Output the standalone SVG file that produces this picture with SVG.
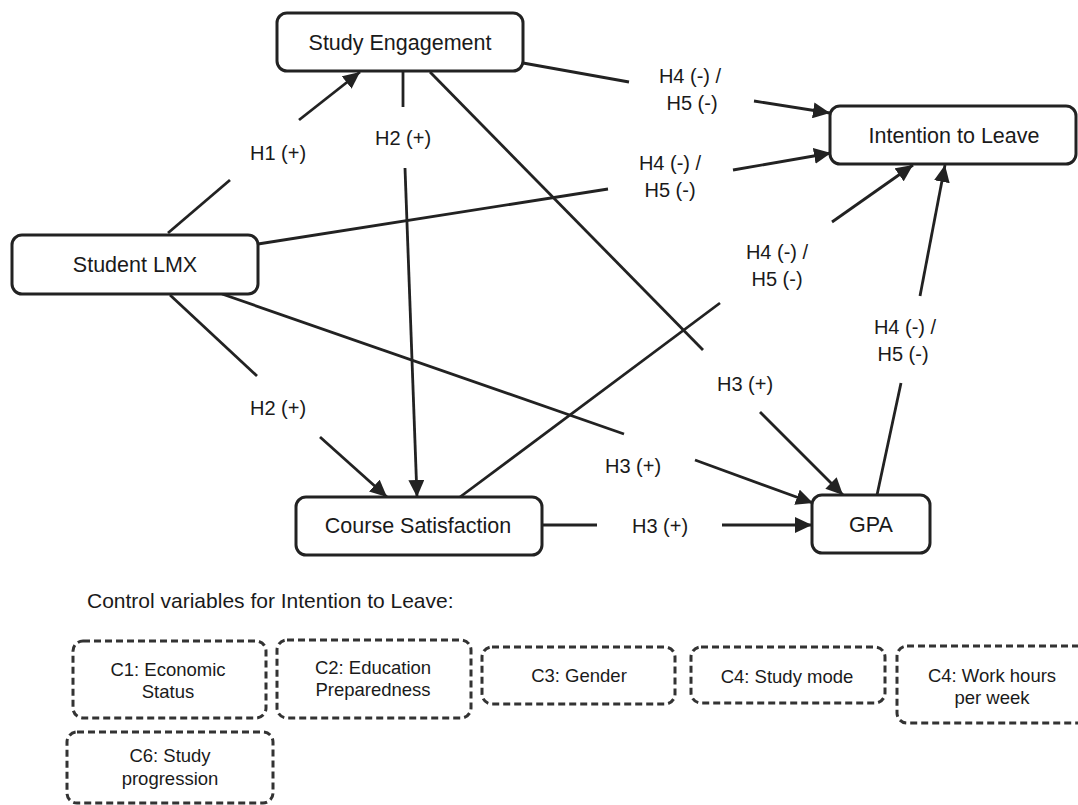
<svg xmlns="http://www.w3.org/2000/svg" width="1078" height="805" viewBox="0 0 1078 805">
<style>
.node rect{fill:#fff;stroke:#222;stroke-width:3}
.ctrl rect{fill:#fff;stroke:#333;stroke-width:3;stroke-dasharray:7 4}
text{font-family:"Liberation Sans",Arial,Helvetica,sans-serif;fill:#1a1a1a;text-anchor:middle}
.nt{font-size:21.5px}
.lt{font-size:20px}
.ct{font-size:18.5px}
.edges line{stroke:#222;stroke-width:2.8;fill:none}
</style>
<defs>
<marker id="arr" markerUnits="userSpaceOnUse" markerWidth="18" markerHeight="16" refX="17" refY="8" orient="auto">
<path d="M0,0 L17,8 L0,16 z" fill="#222"/>
</marker>
</defs>
<rect width="1078" height="805" fill="#fff"/>
<g id="connectors" class="edges">
<line x1="168" y1="233" x2="230" y2="180"/>
<line x1="299" y1="120" x2="360" y2="72" marker-end="url(#arr)"/>
<line x1="403" y1="72" x2="403" y2="107"/>
<line x1="405" y1="168" x2="417" y2="497" marker-end="url(#arr)"/>
<line x1="170" y1="295" x2="257" y2="376"/>
<line x1="320" y1="437" x2="387" y2="497" marker-end="url(#arr)"/>
<line x1="222" y1="294" x2="624" y2="434"/>
<line x1="695" y1="460" x2="813" y2="503" marker-end="url(#arr)"/>
<line x1="430" y1="72" x2="703" y2="350"/>
<line x1="760" y1="412" x2="843" y2="495" marker-end="url(#arr)"/>
<line x1="523" y1="63" x2="629" y2="82"/>
<line x1="754" y1="101" x2="830" y2="113" marker-end="url(#arr)"/>
<line x1="258" y1="244" x2="608" y2="189"/>
<line x1="733" y1="170" x2="831" y2="153" marker-end="url(#arr)"/>
<line x1="460" y1="497" x2="720" y2="303"/>
<line x1="832" y1="222" x2="913" y2="165" marker-end="url(#arr)"/>
<line x1="877" y1="495" x2="901" y2="383"/>
<line x1="920" y1="296" x2="945" y2="165" marker-end="url(#arr)"/>
<line x1="542" y1="525" x2="597" y2="525"/>
<line x1="722" y1="525" x2="812" y2="525" marker-end="url(#arr)"/>
</g>
<g id="edge-labels">
<text class="lt" x="278" y="160">H1 (+)</text>
<text class="lt" x="403" y="145">H2 (+)</text>
<text class="lt" x="278" y="415">H2 (+)</text>
<text class="lt" x="633" y="473">H3 (+)</text>
<text class="lt" x="745" y="391">H3 (+)</text>
<text class="lt" x="660" y="533">H3 (+)</text>
<text class="lt" x="690" y="83">H4 (-) /</text>
<text class="lt" x="692" y="110">H5 (-)</text>
<text class="lt" x="670" y="170">H4 (-) /</text>
<text class="lt" x="670" y="197">H5 (-)</text>
<text class="lt" x="777" y="259">H4 (-) /</text>
<text class="lt" x="777" y="286">H5 (-)</text>
<text class="lt" x="905" y="334">H4 (-) /</text>
<text class="lt" x="903" y="361">H5 (-)</text>
</g>
<g id="study-engagement" class="node"><rect x="277" y="13" width="246" height="58" rx="10"/><text class="nt" x="400" y="50">Study Engagement</text></g>
<g id="intention-to-leave" class="node"><rect x="830" y="106" width="246" height="58" rx="10"/><text class="nt" x="954" y="143">Intention to Leave</text></g>
<g id="student-lmx" class="node"><rect x="12" y="235" width="246" height="59" rx="10"/><text class="nt" x="135" y="272">Student LMX</text></g>
<g id="course-satisfaction" class="node"><rect x="296" y="497" width="246" height="58" rx="10"/><text class="nt" x="418" y="533">Course Satisfaction</text></g>
<g id="gpa" class="node"><rect x="812" y="495" width="118" height="58" rx="10"/><text class="nt" x="871" y="532">GPA</text></g>
<text x="87" y="608" style="font-size:21px;text-anchor:start">Control variables for Intention to Leave:</text>
<g id="c1" class="ctrl"><rect x="73" y="641" width="193" height="77" rx="10"/><text class="ct" x="168" y="676">C1: Economic</text><text class="ct" x="168" y="698">Status</text></g>
<g id="c2" class="ctrl"><rect x="277" y="640" width="194" height="78" rx="10"/><text class="ct" x="373" y="674">C2: Education</text><text class="ct" x="373" y="696">Preparedness</text></g>
<g id="c3" class="ctrl"><rect x="482" y="647" width="193" height="57" rx="10"/><text class="ct" x="579" y="682">C3: Gender</text></g>
<g id="c4-study-mode" class="ctrl"><rect x="691" y="647" width="194" height="56" rx="10"/><text class="ct" x="787" y="683">C4: Study mode</text></g>
<g id="c4-work-hours" class="ctrl"><rect x="897" y="646" width="190" height="77" rx="10"/><text class="ct" x="992" y="682">C4: Work hours</text><text class="ct" x="992" y="704">per week</text></g>
<g id="c6" class="ctrl"><rect x="67" y="732" width="206" height="71" rx="10"/><text class="ct" x="170" y="762">C6: Study</text><text class="ct" x="170" y="785">progression</text></g>
</svg>
